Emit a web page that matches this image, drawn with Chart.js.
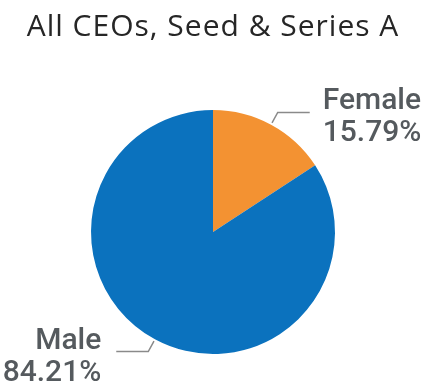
<!DOCTYPE html>
<html>
<head>
<meta charset="utf-8">
<script src="https://cdn.jsdelivr.net/npm/chart.js@4/dist/chart.umd.min.js"></script>
<style>
  html, body { margin: 0; padding: 0; background: #fff; }
  #wrap { width: 426px; height: 390px; }
</style>
</head>
<body>
<div id="wrap"><canvas id="chart" width="426" height="390"></canvas></div>
<script>
// CEO split by gender, seed and series A rounds
let title = "All CEOs, Seed & Series A";
let labels = ["Female", "Male"];
let shares = [15.79, 84.21];
let colors = ["#f39232", "#0b72be"];

// heading drawn straight onto the canvas
let headingPlugin = {
  id: "heading",
  afterDraw(chart) {
    let ctx = chart.ctx;
    ctx.save();
    ctx.fillStyle = "#262626";
    ctx.font = "30px 'Open Sans'";
    ctx.letterSpacing = "1px";
    ctx.textAlign = "center";
    ctx.textBaseline = "alphabetic";
    ctx.fillText(title, chart.width / 2, 36);
    ctx.restore();
  }
};

// callout labels: short leader line out of each slice, then the text
let calloutPlugin = {
  id: "callouts",
  afterDatasetsDraw(chart) {
    let ctx = chart.ctx;
    let arcs = chart.getDatasetMeta(0).data;
    ctx.save();
    arcs.forEach((arc, i) => {
      let mid = (arc.startAngle + arc.endAngle) / 2;
      let r = arc.outerRadius;
      let cos = Math.cos(mid), sin = Math.sin(mid);
      let right = cos >= 0;
      let x0 = arc.x + cos * (r + 2), y0 = arc.y + sin * (r + 2);
      let x1 = arc.x + cos * (r + 14), y1 = arc.y + sin * (r + 14);
      let x2 = x1 + (right ? 32 : -32);

      ctx.strokeStyle = "#8a8a8a";
      ctx.lineWidth = 1.5;
      ctx.beginPath();
      ctx.moveTo(x0, y0);
      ctx.lineTo(x1, y1);
      ctx.lineTo(x2, y1);
      ctx.stroke();

      ctx.fillStyle = "#555a5e";
      ctx.font = "500 30px Roboto";
      ctx.textAlign = right ? "left" : "right";
      ctx.textBaseline = "alphabetic";
      let tx = x2 + (right ? 13 : -15);
      ctx.fillText(labels[i], tx, y1 - 3);
      ctx.fillText(shares[i].toFixed(2) + "%", tx, y1 + 29);
    });
    ctx.restore();
  }
};

let chart = new Chart(document.getElementById("chart").getContext("2d"), {
  type: "pie",
  data: {
    labels: labels,
    datasets: [{
      data: shares,
      backgroundColor: colors,
      borderWidth: 0
    }]
  },
  options: {
    responsive: false,
    animation: false,
    layout: { padding: { top: 110, left: 91, right: 91, bottom: 36 } },
    plugins: {
      legend: { display: false },
      tooltip: { enabled: false },
      title: { display: false }
    }
  },
  plugins: [calloutPlugin, headingPlugin]
});
</script>
</body>
</html>
